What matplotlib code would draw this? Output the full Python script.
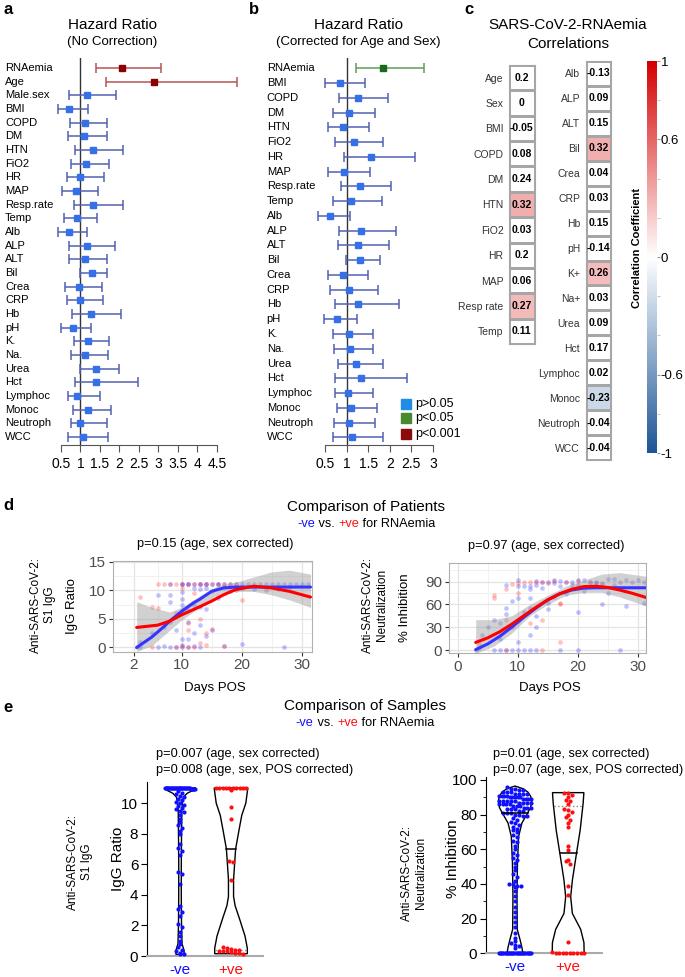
import numpy as np
import matplotlib
matplotlib.use('Agg')
import matplotlib.pyplot as plt
import matplotlib.cm as cm
from matplotlib.colors import LinearSegmentedColormap
from matplotlib.patches import Rectangle
from matplotlib.ticker import FixedLocator

plt.rcParams['font.family'] = ['Liberation Sans', 'DejaVu Sans']

W, H = 685, 977

# ---------------- panel a : hazard ratio, no correction
a_rows = ['RNAemia', 'Age', 'Male.sex', 'BMI', 'COPD', 'DM', 'HTN', 'FiO2', 'HR', 'MAP',
          'Resp.rate', 'Temp', 'Alb', 'ALP', 'ALT', 'Bil', 'Crea', 'CRP', 'Hb', 'pH',
          'K.', 'Na.', 'Urea', 'Hct', 'Lymphoc', 'Monoc', 'Neutroph', 'WCC']
a_hr = [2.06, 2.89, 1.16, 0.71, 1.12, 1.08, 1.33, 1.14, 1.00, 0.88, 1.32, 0.92, 0.71, 1.16,
        1.11, 1.29, 0.95, 1.00, 1.26, 0.80, 1.20, 1.12, 1.39, 1.40, 0.90, 1.20, 1.00, 1.06]
a_lo = [1.39, 1.65, 0.71, 0.43, 0.74, 0.69, 0.85, 0.75, 0.65, 0.53, 0.83, 0.58, 0.43, 0.71,
        0.71, 1.00, 0.59, 0.65, 0.78, 0.50, 0.84, 0.75, 0.98, 0.86, 0.68, 0.80, 0.76, 0.67]
a_hi = [3.06, 5.01, 1.92, 1.18, 1.69, 1.69, 2.08, 1.73, 1.59, 1.46, 2.10, 1.43, 1.16, 1.88,
        1.69, 1.67, 1.54, 1.58, 2.05, 1.27, 1.72, 1.70, 1.99, 2.47, 1.50, 1.78, 1.68, 1.71]
a_sig = ['p<0.001', 'p<0.001'] + ['p>0.05'] * 26
a_ticks = [0.5, 1, 1.5, 2, 2.5, 3, 3.5, 4, 4.5]

# ---------------- panel b : hazard ratio, age & sex corrected
b_rows = ['RNAemia', 'BMI', 'COPD', 'DM', 'HTN', 'FiO2', 'HR', 'MAP', 'Resp.rate', 'Temp',
          'Alb', 'ALP', 'ALT', 'Bil', 'Crea', 'CRP', 'Hb', 'pH', 'K.', 'Na.', 'Urea', 'Hct',
          'Lymphoc', 'Monoc', 'Neutroph', 'WCC']
b_hr = [1.84, 0.85, 1.26, 1.05, 0.92, 1.17, 1.56, 0.95, 1.31, 1.10, 0.62, 1.33, 1.26,
        1.32, 0.92, 1.05, 1.27, 0.77, 1.05, 1.08, 1.21, 1.33, 1.03, 1.10, 1.05, 1.12]
b_lo = [1.22, 0.50, 0.82, 0.68, 0.56, 0.74, 0.95, 0.58, 0.86, 0.68, 0.35, 0.82, 0.79,
        0.99, 0.56, 0.62, 0.73, 0.47, 0.69, 0.71, 0.79, 0.74, 0.73, 0.78, 0.71, 0.68]
b_hi = [2.79, 1.42, 1.95, 1.66, 1.53, 1.85, 2.58, 1.55, 2.02, 1.82, 1.08, 2.15, 1.98,
        1.77, 1.50, 1.73, 2.21, 1.25, 1.60, 1.62, 1.85, 2.39, 1.61, 1.70, 1.65, 1.85]
b_sig = ['p<0.05'] + ['p>0.05'] * 25
b_ticks = [0.5, 1, 1.5, 2, 2.5, 3]
legend_labels = ['p>0.05', 'p<0.05', 'p<0.001']

# ---------------- panel c : correlations
c_left_labels = ['Age', 'Sex', 'BMI', 'COPD', 'DM', 'HTN', 'FiO2', 'HR', 'MAP', 'Resp rate', 'Temp']
c_left_vals = [0.2, 0, -0.05, 0.08, 0.24, 0.32, 0.03, 0.2, 0.06, 0.27, 0.11]
c_left_sig = [False, False, False, False, False, True, False, False, False, True, False]
c_right_labels = ['Alb', 'ALP', 'ALT', 'Bil', 'Crea', 'CRP', 'Hb', 'pH', 'K+', 'Na+', 'Urea',
                  'Hct', 'Lymphoc', 'Monoc', 'Neutroph', 'WCC']
c_right_vals = [-0.13, 0.09, 0.15, 0.32, 0.04, 0.03, 0.15, -0.14, 0.26, 0.03, 0.09, 0.17,
                0.02, -0.23, -0.04, -0.04]
c_right_sig = [False, False, False, True, False, False, False, False, True, False, False,
               False, False, True, False, False]
cb_ticks = [-1, -0.6, 0, 0.6, 1]

# ---------------- panel d : patients over time
d1_neg_day = [8, 10, 11, 12, 13, 14, 15, 16, 17, 18, 19, 20, 21, 22, 23, 24, 25, 26, 27, 28, 29, 30, 31,
              10, 11, 13, 14, 16,
              2.5, 3, 6, 7, 8, 9, 10, 10, 11, 12, 13, 17, 20, 27,
              3, 5, 6, 7, 8, 8, 8, 9, 10, 10, 10, 10, 10, 11, 11, 11, 12, 12, 12, 13, 13, 14, 14,
              15, 15, 16, 17, 18, 19, 20, 22, 24, 26, 28, 13, 14]
d1_neg_val = [11] * 23 + [11] * 5 + \
             [0.1, 0, 0, 0.2, 0, 0, 0, 0.5, 0, 0.3, 0, 0.2, 0.6, 0] + \
             [1.0, 2.5, 9.2, 3.5, 9.2, 8.0, 4.5, 3.0, 6.5, 7.5, 8.5, 9.7, 1.5, 1.5, 6.5, 4.5,
              10.4, 7.5, 2.5, 7.0, 10.2, 6.8, 10.3, 3.0, 9.8, 8.7, 10.5, 9.8, 10.0, 10.3, 10.2,
              10.1, 10.2, 10.5, 4.0, 2.0]
d1_pos_day = [6, 7, 8, 9, 10, 11, 12, 13, 14, 15, 16, 17, 18, 19,
              5, 9, 10, 11, 12, 14, 17,
              3, 5, 6, 9, 10, 11, 12, 13, 13, 14, 16, 20, 11, 15]
d1_pos_val = [11] * 14 + [0, 0, 0.2, 0, 0, 0.5, 0.3] + \
             [8.8, 7.0, 6.9, 6.0, 10.3, 3.0, 9.5, 5.0, 0.8, 2.5, 9.0, 8.3, 4.2, 3.2]
d1_fit_neg_x = [2.5, 5, 7, 8, 10, 12, 13, 15, 17, 19, 22, 26, 31.5]
d1_fit_neg_y = [0.0, 1.8, 3.6, 4.6, 6.3, 7.8, 8.4, 9.8, 10.4, 10.55, 10.55, 10.55, 10.55]
d1_fit_pos_x = [2.5, 6, 8, 10, 13, 15, 17, 19, 22, 25, 28, 31.5]
d1_fit_pos_y = [3.5, 3.9, 4.6, 5.7, 7.1, 8.1, 9.2, 10.1, 10.7, 10.4, 9.8, 8.8]
d1_band_x = [2.5, 5, 8, 10, 13, 16, 19, 22, 25, 28, 31.5]
d1_band_lo = [-0.7, 0.3, 3.0, 4.8, 7.0, 9.3, 9.8, 9.8, 9.2, 8.3, 7.0]
d1_band_hi = [8.0, 7.0, 6.2, 7.0, 9.0, 10.8, 11.4, 12.3, 13.2, 13.5, 12.8]

d2_neg_day = [8, 10, 10, 11, 12, 12, 13, 13, 14, 14, 15, 16, 16, 17, 17, 18, 19, 19, 20, 20,
              21, 21, 22, 23, 23, 24, 25, 26, 26, 27, 28, 29, 30, 31,
              3, 6, 7, 8, 9, 10, 11, 12, 13, 17, 20, 27,
              3.5, 4, 5, 6, 7, 7, 8, 8, 9, 9, 10, 10, 11, 12, 12, 13, 13, 15, 15, 16, 18, 20,
              24, 25, 28, 31, 10, 12]
d2_neg_val = [85, 92, 84, 84, 84, 80, 85, 91, 90, 82, 90, 88, 92, 91, 84, 89, 85, 90, 92, 86,
              78, 92, 90, 88, 90, 87, 93, 94, 86, 90, 92, 90, 92, 90] + [0] * 12 + \
             [3, 20, 30, 40, 35, 15, 55, 47, 65, 30, 68, 10, 50, 55, 20, 45, 30, 62, 54, 70,
              74, 50, 60, 75, 58, 62, 38, 68]
d2_pos_day = [3.5, 6, 6, 8, 8, 9, 10, 10, 11, 12, 13, 14, 15, 16, 17, 17, 18, 20, 22, 24,
              10, 12, 14, 17, 14, 8]
d2_pos_val = [8, 73, 68, 80, 40, 87, 75, 88, 90, 90, 89, 90, 88, 91, 62, 60, 90, 91, 90, 88,
              40, 35, 40, 10, 0, 0]
d2_fit_neg_x = [3, 5, 7, 9, 11, 13, 15, 17, 19, 21, 23, 31.5]
d2_fit_neg_y = [0.5, 8, 18, 30, 43, 55, 66, 74, 79, 81.5, 82, 82]
d2_fit_pos_x = [3, 5, 7, 9, 11, 13, 15, 17, 19, 21, 23, 25, 27, 29, 31.5]
d2_fit_pos_y = [10, 16, 24, 34, 45, 56, 66, 74, 80, 83.5, 84, 82.5, 79, 75, 69]
d2_band_x = [3, 6, 9, 12, 15, 18, 21, 24, 27, 31.5]
d2_band_lo = [-4.3, 5, 22, 45, 60, 72, 76, 76, 70, 58]
d2_band_hi = [40, 40, 45, 60, 72, 84, 92, 100, 102, 97]

# ---------------- panel e : samples (violins)
e1_neg = [11] * 28 + [10.9] * 6 + [10.8, 10.7, 10.6, 10.5, 10.4, 10.3, 10.2, 10.1, 10.0, 9.9,
          9.8, 9.7, 9.6, 9.5, 9.4, 9.2, 9.0, 8.8, 8.6, 8.4, 8.2, 8.0, 7.3, 7.1, 6.9, 6.6, 5.5,
          5.4, 4.7, 3.3, 3.1, 2.9, 2.6, 2.1, 1.9, 1.6, 1.3, 1.0, 0.8, 0.6, 0.4, 0.3, 0.2, 0.15, 0.1]
e1_pos = [11] * 10 + [10.85, 9.75, 9.0, 6.2, 6.15, 5.0, 0.6, 0.5, 0.45, 0.4, 0.4, 0.35, 0.3,
          0.3, 0.25, 0.2, 0.2, 0.15]
e1_neg_shape_v = [0.1, 0.35, 0.8, 2, 4, 6, 8, 9.5, 10.0, 10.4, 10.65, 10.87, 11.0]
e1_neg_shape_w = [0.08, 0.08, 0.04, 0.03, 0.025, 0.025, 0.03, 0.035, 0.045, 0.07, 0.14, 0.27, 0.31]
e1_pos_shape_v = [0.15, 0.5, 1.3, 2.4, 3.3, 3.9, 5.0, 6.0, 7.0, 8.3, 9.2, 10.0, 10.5, 11.0]
e1_pos_shape_w = [0.32, 0.32, 0.275, 0.17, 0.08, 0.05, 0.05, 0.07, 0.09, 0.16, 0.21, 0.29, 0.31, 0.33]
e1_pos_median, e1_pos_q = 7.0, 0.4

e2_neg = [96, 95, 95, 94, 94, 93, 93, 93, 92, 92, 92, 92, 91, 91, 91, 91, 90, 90, 90, 90, 90,
          89, 89, 89, 89, 88, 88, 88, 88, 88, 87, 87, 87, 87, 86, 86, 86, 86, 85, 85, 85, 84,
          84, 84, 83, 83, 83, 82, 82, 81, 81, 81, 80, 80, 79, 79, 78, 77, 76, 75, 74, 73, 72,
          71, 70, 68, 67, 65, 64, 62, 60, 58, 57, 55, 54, 52, 50, 48, 46, 44, 42, 40, 40, 39,
          39, 38, 36, 33, 30, 27, 24, 21, 18, 15, 12, 9, 7, 6, 5, 4, 3] + [0] * 30
e2_pos = [92.5, 92.5, 91.3, 90.3, 88.4, 87.7, 86, 83, 82.4, 81.5, 80, 78.4, 77, 75.3, 73,
          61.8, 59.8, 54, 53, 51.5, 38.6, 33.4, 6.6, 0.5] + [0] * 9
e2_neg_shape_v = [0, 0.4, 3.3, 8, 13.8, 33, 52, 67.5, 75.2, 81.3, 84, 87.6, 90.5, 93, 95, 96.5]
e2_neg_shape_w = [0.146, 0.146, 0.131, 0.094, 0.043, 0.038, 0.047, 0.069, 0.131, 0.244,
                  0.29, 0.313, 0.296, 0.244, 0.15, 0.0]
e2_pos_shape_v = [0, 6.2, 13.8, 23, 32.6, 42.2, 57.6, 71, 86.5, 92.7]
e2_pos_shape_w = [0.30, 0.296, 0.235, 0.079, 0.047, 0.079, 0.156, 0.225, 0.281, 0.295]
e2_neg_median, e2_neg_q = 81, 87.5
e2_pos_median, e2_pos_q = 58, 85

cats = ['-ve', '+ve']
BLUE, RED = '#1010ff', '#ff1010'

ci_col = {'p>0.05': '#5261b3', 'p<0.05': '#5c9e5c', 'p<0.001': '#b85454'}
pt_col = {'p>0.05': '#3570e6', 'p<0.05': '#1b6a1b', 'p<0.001': '#8b0000'}
leg_col = {'p>0.05': '#1f8ce6', 'p<0.05': '#4a8a2e', 'p<0.001': '#8b0a0a'}

fig = plt.figure(figsize=(W / 100, H / 100), dpi=100)


def box(x0, y0, x1, y1):
    return [x0 / W, 1 - y1 / H, (x1 - x0) / W, (y1 - y0) / H]


def ftext(x, y, s, **kw):
    kw.setdefault('ha', 'center')
    kw.setdefault('va', 'center')
    return fig.text(x / W, 1 - y / H, s, **kw)


def colored_line(xc, y, parts, size):
    r = fig.canvas.get_renderer()
    ts = [ftext(0, y, s, color=c, fontsize=size, ha='left') for s, c in parts]
    ws = [t.get_window_extent(renderer=r).width for t in ts]
    x = xc - sum(ws) / 2
    for t, w in zip(ts, ws):
        t.set_x(x / W)
        x += w


def forest(rect, rows, hr, lo, hi, sig, xlim, ylim, ticks, lab_x):
    ax = fig.add_axes(box(*rect))
    for i in range(len(rows)):
        s = sig[i]
        ax.errorbar(hr[i], i, xerr=[[hr[i] - lo[i]], [hi[i] - hr[i]]], fmt='s', ms=4.2,
                    mfc=pt_col[s], mec=pt_col[s], ecolor=ci_col[s], elinewidth=1.1,
                    capsize=3.3, capthick=1.1, zorder=3, clip_on=False)
        ax.text(lab_x, i, rows[i], transform=ax.get_yaxis_transform(), ha='left',
                va='center', fontsize=8)
    ax.axvline(1, color='#333333', lw=1, zorder=2)
    ax.set_xlim(*xlim)
    ax.set_ylim(*ylim)
    ax.set_yticks([])
    for s in ['left', 'top', 'right']:
        ax.spines[s].set_visible(False)
    ax.spines['bottom'].set_bounds(ticks[0], ticks[-1])
    ax.spines['bottom'].set_color('#555555')
    ax.set_xticks(ticks)
    ax.set_xticklabels(['{:g}'.format(t) for t in ticks])
    ax.tick_params(axis='x', length=5, color='#555555', labelsize=10, pad=4)
    ax.patch.set_alpha(0)
    return ax


# ---- a
forest((50, 58, 245, 445), a_rows, a_hr, a_lo, a_hi, a_sig, (0.218, 5.218), (27.58, -0.73),
       a_ticks, -0.23)
ftext(112, 25, 'Hazard Ratio', fontsize=11)
ftext(112, 42.5, '(No Correction)', fontsize=9.5)

# ---- b
axb = forest((315, 58, 440, 445), b_rows, b_hr, b_lo, b_hi, b_sig, (0.269, 3.162),
             (25.52, -0.70), b_ticks, -0.386)
ftext(358.7, 25, 'Hazard Ratio', fontsize=11)
ftext(358.7, 42, '(Corrected for Age and Sex)', fontsize=9.5)
for k, lab in enumerate(legend_labels):
    yc = 403.5 + 15 * k
    fig.add_artist(Rectangle((401 / W, 1 - (yc + 5) / H), 10 / W, 10 / H,
                             transform=fig.transFigure, color=leg_col[lab]))
    ftext(415, yc, lab, fontsize=9, ha='left')

# ---- c
cmap = LinearSegmentedColormap.from_list('rb', ['#1d5596', '#ffffff', '#d40000'])


def heatcol(rect, labels, vals, sig):
    ax = fig.add_axes(box(*rect))
    shown = [v if s else 0 for v, s in zip(vals, sig)]
    ax.pcolormesh(np.array(shown, float).reshape(-1, 1), cmap=cmap, vmin=-1, vmax=1,
                  edgecolors='#a6a6a6', linewidth=0.8)
    ax.set_ylim(len(vals), 0)
    ax.set_xlim(0, 1)
    for i, v in enumerate(vals):
        ax.text(0.5, i + 0.5, '{:g}'.format(v), ha='center', va='center', fontsize=7.5,
                fontweight='bold')
    ax.set_xticks([])
    ax.set_yticks(np.arange(len(vals)) + 0.5)
    ax.set_yticklabels(labels, fontsize=7.5, color='#333333')
    ax.tick_params(axis='y', length=0, pad=4)
    for s in ax.spines.values():
        s.set_color('#a6a6a6')
        s.set_linewidth(0.8)


heatcol((509, 65, 534.7, 344), c_left_labels, c_left_vals, c_left_sig)
heatcol((585.7, 61, 611, 460), c_right_labels, c_right_vals, c_right_sig)
ftext(568, 25, 'SARS-CoV-2-RNAemia', fontsize=11)
ftext(568, 44, 'Correlations', fontsize=11)

cax = fig.add_axes(box(646.5, 61, 656.5, 453))
sm = cm.ScalarMappable(norm=plt.Normalize(-1, 1), cmap=cmap)
cb = fig.colorbar(sm, cax=cax, ticks=cb_ticks)
cb.ax.set_yticklabels(['{:g}'.format(t) for t in cb_ticks])
cb.outline.set_visible(False)
cb.ax.yaxis.set_minor_locator(FixedLocator([-0.8, -0.4, -0.2, 0.2, 0.4, 0.8]))
cb.ax.tick_params(which='major', labelsize=9.5, length=2, color='#999999', pad=1)
cb.ax.tick_params(which='minor', length=2, color='#bbbbbb')
ftext(637, 248, 'Correlation Coefficient', fontsize=8, fontweight='bold', rotation=90)


# ---- d
def growth(rect, nd, nv, pd_, pv, bx, blo, bhi, fnx, fny, fpx, fpy, xlim, ylim,
           xmaj, xmin, ymaj, ymin):
    ax = fig.add_axes(box(*rect))
    ax.scatter(nd, nv, s=11, color='#2222ff', alpha=0.28, lw=0, zorder=2)
    ax.scatter(pd_, pv, s=11, color='#ff2222', alpha=0.28, lw=0, zorder=2)
    ax.fill_between(bx, blo, bhi, color='#9a9a9a', alpha=0.45, lw=0, zorder=3)
    ax.plot(fnx, fny, color='#3535ff', lw=2.2, zorder=4, solid_capstyle='round')
    ax.plot(fpx, fpy, color='#ff0000', lw=2.2, zorder=5, solid_capstyle='round')
    ax.set_xlim(*xlim)
    ax.set_ylim(*ylim)
    ax.set_xticks(xmaj)
    ax.set_yticks(ymaj)
    ax.xaxis.set_minor_locator(FixedLocator(xmin))
    ax.yaxis.set_minor_locator(FixedLocator(ymin))
    ax.grid(True, which='major', color='#e3e3e3', lw=0.9)
    ax.grid(True, which='minor', color='#efefef', lw=0.6)
    ax.set_axisbelow(True)
    for s in ax.spines.values():
        s.set_color('#b0b0b0')
    ax.tick_params(which='major', length=3, color='#333333', labelcolor='#4d4d4d',
                   labelsize=11, pad=2)
    ax.tick_params(which='minor', length=0)
    return ax


growth((113, 561, 311.7, 651.5), d1_neg_day, d1_neg_val, d1_pos_day, d1_pos_val,
       d1_band_x, d1_band_lo, d1_band_hi, d1_fit_neg_x, d1_fit_neg_y, d1_fit_pos_x,
       d1_fit_pos_y, (-1.45, 31.7), (-0.7, 15.1), [2, 10, 20, 30], [6, 15, 25],
       [0, 5, 10, 15], [2.5, 7.5, 12.5])
growth((449.3, 562.7, 646, 653.3), d2_neg_day, d2_neg_val, d2_pos_day, d2_pos_val,
       d2_band_x, d2_band_lo, d2_band_hi, d2_fit_neg_x, d2_fit_neg_y, d2_fit_pos_x,
       d2_fit_pos_y, (-1.4, 31.4), (-4.3, 115), [0, 10, 20, 30], [5, 15, 25],
       [0, 30, 60, 90], [15, 45, 75, 105])

ftext(366, 507, 'Comparison of Patients', fontsize=11)
colored_line(366, 524, [('-ve', BLUE), (' vs. ', 'black'), ('+ve', RED),
                        (' for RNAemia', 'black')], 9.2)
ftext(215, 544, 'p=0.15 (age, sex corrected)', fontsize=9.2)
ftext(546, 546, 'p=0.97 (age, sex corrected)', fontsize=9.2)
ftext(43, 605, 'Anti-SARS-CoV-2:\nS1 IgG', fontsize=8.5, rotation=90, multialignment='center')
ftext(72, 606, 'IgG Ratio', fontsize=9.5, rotation=90)
ftext(375, 605, 'Anti-SARS-CoV-2:\nNeutralization', fontsize=8.5, rotation=90,
      multialignment='center')
ftext(405, 608, '% Inhibition', fontsize=9.5, rotation=90)
ftext(215, 688, 'Days POS', fontsize=9.5)
ftext(550, 688, 'Days POS', fontsize=9.5)


# ---- e
def swarm(vals, binh, dx, cap):
    vals = np.asarray(vals, float)
    xs = np.zeros_like(vals)
    keys = np.round(vals / binh).astype(int)
    for k in np.unique(keys):
        idx = np.where(keys == k)[0]
        n = len(idx)
        if n > 1:
            w = min((n - 1) * dx / 2, cap)
            xs[idx] = np.linspace(-w, w, n)
    return xs


def violin(ax, x, sv, sw, vals, col, binh, dx, med=None, q=None):
    sv = np.asarray(sv, float)
    sw = np.asarray(sw, float)
    ax.fill(np.r_[x - sw, (x + sw)[::-1]], np.r_[sv, sv[::-1]], facecolor='white',
            edgecolor='black', lw=1, zorder=2)
    if q is not None:
        wq = np.interp(q, sv, sw)
        ax.plot([x - wq, x + wq], [q, q], color='#888888', lw=1, ls=':', zorder=2.5)
    ax.scatter(x + swarm(vals, binh, dx, 0.3), vals, s=9, color=col, lw=0, zorder=3,
               clip_on=False)
    if med is not None:
        wm = np.interp(med, sv, sw)
        ax.plot([x - wm, x + wm], [med, med], color='black', lw=1.1, zorder=4)


def sample_axes(rect, xlim, ylim, yticks, minor=None):
    ax = fig.add_axes(box(*rect))
    ax.set_xlim(*xlim)
    ax.set_ylim(*ylim)
    ax.set_xticks([0, 1])
    ax.set_xticklabels(cats)
    for lab, c in zip(ax.get_xticklabels(), [BLUE, RED]):
        lab.set_color(c)
    ax.set_yticks(yticks)
    if minor is not None:
        ax.yaxis.set_minor_locator(FixedLocator(minor))
    ax.tick_params(axis='x', length=0, labelsize=11, pad=5)
    ax.tick_params(axis='y', which='major', length=4, labelsize=11, pad=2)
    ax.tick_params(axis='y', which='minor', length=2.5)
    ax.spines['top'].set_visible(False)
    ax.spines['right'].set_visible(False)
    ax.spines['bottom'].set_color('#aaaaaa')
    ax.spines['bottom'].set_linewidth(1.5)
    ax.patch.set_alpha(0)
    return ax


ax1 = sample_axes((146.7, 781.7, 263.3, 956), (-0.653, 1.633), (0, 11.41), [0, 2, 4, 6, 8, 10])
violin(ax1, 0, e1_neg_shape_v, e1_neg_shape_w, e1_neg, BLUE, 0.25, 0.08)
violin(ax1, 1, e1_pos_shape_v, e1_pos_shape_w, e1_pos, RED, 0.25, 0.08,
       med=e1_pos_median, q=e1_pos_q)

ax2 = sample_axes((485.7, 776.7, 601.7, 953.3), (-0.55, 1.63), (0, 101.9),
                  [0, 20, 40, 60, 80, 100], [10, 30, 50, 70, 90])
violin(ax2, 0, e2_neg_shape_v, e2_neg_shape_w, e2_neg, BLUE, 2.5, 0.075,
       med=e2_neg_median, q=e2_neg_q)
violin(ax2, 1, e2_pos_shape_v, e2_pos_shape_w, e2_pos, RED, 2.5, 0.075,
       med=e2_pos_median, q=e2_pos_q)

ftext(365, 706, 'Comparison of Samples', fontsize=11)
colored_line(365, 723, [('-ve', BLUE), (' vs. ', 'black'), ('+ve', RED),
                        (' for RNAemia', 'black')], 9.2)
ftext(156, 754, 'p=0.007 (age, sex corrected)', fontsize=9.2, ha='left')
ftext(156, 769.5, 'p=0.008 (age, sex, POS corrected)', fontsize=9.2, ha='left')
ftext(492.7, 754, 'p=0.01 (age, sex corrected)', fontsize=9.2, ha='left')
ftext(492.7, 769.5, 'p=0.07 (age, sex, POS corrected)', fontsize=9.2, ha='left')
ftext(80, 862, 'Anti-SARS-CoV-2:\nS1 IgG', fontsize=8.5, rotation=90, multialignment='center')
ftext(118, 859, 'IgG Ratio', fontsize=11, rotation=90)
ftext(414, 873, 'Anti-SARS-CoV-2:\nNeutralization', fontsize=8.5, rotation=90,
      multialignment='center')
ftext(452.7, 859, '% Inhibition', fontsize=11, rotation=90)

# panel letters
for x, y, s in [(8, 9, 'a'), (254, 9, 'b'), (469, 9, 'c'), (8, 506, 'd'), (8, 707, 'e')]:
    ftext(x, y, s, fontsize=12, fontweight='bold')

fig.savefig('out.png', dpi=100)
